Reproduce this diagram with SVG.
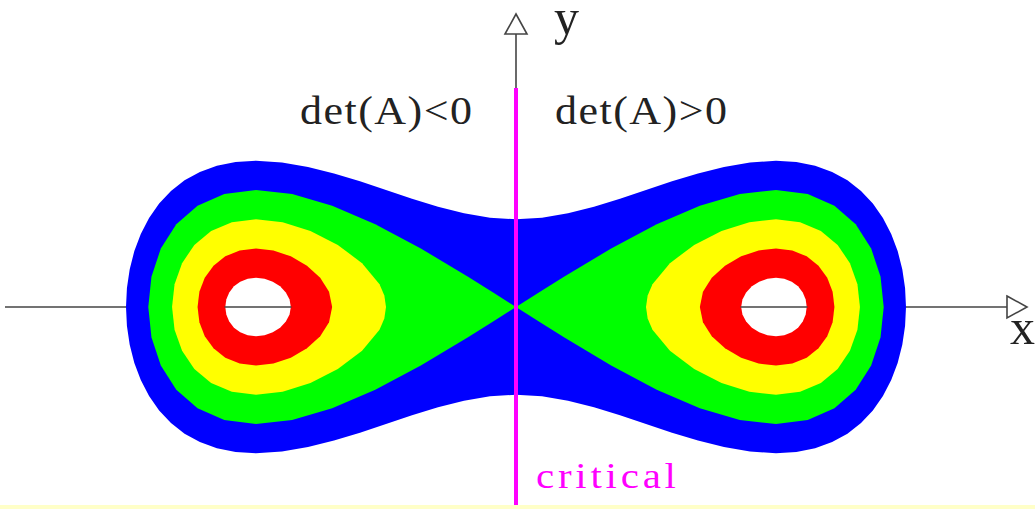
<svg xmlns="http://www.w3.org/2000/svg" width="1035" height="509" viewBox="0 0 1035 509">
<style>
.axis{stroke:#444;stroke-width:1.6;fill:none}
.head{stroke:#444;stroke-width:1.6;fill:#fff;stroke-linejoin:miter}
.serif{font-family:"Liberation Serif","DejaVu Serif",serif;fill:#222}
</style>
<defs>
<path id="greenR" d="M883.2,307 L880.05,276.72 870.67,248.5 855.21,224.27 833.93,205.68 807.21,193.99 775.5,190 739.34,193.99 699.35,205.68 656.21,224.27 610.67,248.5 563.49,276.72 539.55,291.73 515.5,307 539.55,322.27 563.49,337.28 610.67,365.5 656.21,389.73 699.35,408.32 739.34,420.01 775.5,424 807.21,420.01 833.93,408.32 855.21,389.73 870.67,365.5 880.05,337.28 Z"/>
<path id="yellowR" d="M859.45,307 L856.93,284.29 849.43,263.13 837.14,244.95 820.38,231.01 799.62,222.24 775.5,219.25 748.9,222.24 721.05,231.01 693.69,244.95 669.42,263.13 651.98,284.29 647.16,295.55 645.5,307 647.16,318.45 651.98,329.71 669.42,350.87 693.69,369.05 721.05,382.99 748.9,391.76 775.5,394.75 799.62,391.76 820.38,382.99 837.14,369.05 849.43,350.87 856.93,329.71 Z"/>
<path id="redR" d="M833.93,307 L832.12,291.86 826.74,277.75 817.99,265.63 806.19,256.34 791.81,250.49 775.5,248.5 758.09,250.49 740.67,256.34 724.55,265.63 711.28,277.75 702.46,291.86 699.35,307 702.46,322.14 711.28,336.25 724.55,348.37 740.67,357.66 758.09,363.51 775.5,365.5 791.81,363.51 806.19,357.66 817.99,348.37 826.74,336.25 832.12,322.14 Z"/>
<path id="holeR" d="M806.19,307 L805.2,299.43 802.27,292.38 797.55,286.32 791.27,281.67 783.78,278.75 775.5,277.75 766.95,278.75 758.71,281.67 751.4,286.32 745.64,292.38 741.94,299.43 740.67,307 741.94,314.57 745.64,321.62 751.4,327.68 758.71,332.33 766.95,335.25 775.5,336.25 783.78,335.25 791.27,332.33 797.55,327.68 802.27,321.62 805.2,314.57 Z"/>
</defs>
<rect x="0" y="505" width="1035" height="4" fill="#ffffc8"/>
<g id="axes">
<line class="axis" x1="5" y1="307" x2="1008" y2="307"/>
<line class="axis" x1="516" y1="34" x2="516" y2="505"/>
</g>
<g id="level-sets" transform="translate(0.5,0)">
<path id="blue" fill="#0000ff" d="M905.5,307 L904.57,287.91 901.79,269.15 897.16,251.03 890.71,233.88 882.43,217.97 872.36,203.59 860.52,190.97 846.94,180.34 831.63,171.88 814.62,165.73 795.91,162 775.5,160.75 749.5,162.45 723.5,166.95 697.5,173.48 671.5,181.37 645.5,190 619.5,198.69 593.5,206.73 567.5,213.33 541.5,217.71 515.5,219.25 489.5,217.71 463.5,213.33 437.5,206.73 411.5,198.69 385.5,190 359.5,181.37 333.5,173.48 307.5,166.95 281.5,162.45 255.5,160.75 235.09,162 216.38,165.73 199.37,171.88 184.06,180.34 170.48,190.97 158.64,203.59 148.57,217.97 140.29,233.88 133.84,251.03 129.21,269.15 126.43,287.91 125.5,307 126.43,326.09 129.21,344.85 133.84,362.97 140.29,380.12 148.57,396.03 158.64,410.41 170.48,423.03 184.06,433.66 199.37,442.12 216.38,448.27 235.09,452 255.5,453.25 281.5,451.55 307.5,447.05 333.5,440.52 359.5,432.63 385.5,424 411.5,415.31 437.5,407.27 463.5,400.67 489.5,396.29 515.5,394.75 541.5,396.29 567.5,400.67 593.5,407.27 619.5,415.31 645.5,424 671.5,432.63 697.5,440.52 723.5,447.05 749.5,451.55 775.5,453.25 795.91,452 814.62,448.27 831.63,442.12 846.94,433.66 860.52,423.03 872.36,410.41 882.43,396.03 890.71,380.12 897.16,362.97 901.79,344.85 904.57,326.09 Z"/>
<g id="green" fill="#00ff00">
<use href="#greenR"/>
<use href="#greenR" transform="translate(1031,0) scale(-1,1)"/>
</g>
<g id="yellow" fill="#ffff00">
<use href="#yellowR"/>
<use href="#yellowR" transform="translate(1031,0) scale(-1,1)"/>
</g>
<g id="red" fill="#ff0000">
<use href="#redR"/>
<use href="#redR" transform="translate(1031,0) scale(-1,1)"/>
</g>
<g id="holes" fill="#ffffff">
<use href="#holeR"/>
<use href="#holeR" transform="translate(1031,0) scale(-1,1)"/>
</g>
</g>
<g id="axis-in-holes">
<line class="axis" x1="224.5" y1="307" x2="291.5" y2="307"/>
<line class="axis" x1="740.5" y1="307" x2="807.5" y2="307"/>
</g>
<g id="arrowheads">
<polygon class="head" points="1007,296 1027,307 1007,318"/>
<polygon class="head" points="505,34 516,14 527,34"/>
</g>
<line id="critical-line" x1="516" y1="88" x2="516" y2="505" stroke="#ff00ff" stroke-width="4"/>
<g id="labels">
<text class="serif" x="554" y="34" font-size="50">y</text>
<text class="serif" x="1010" y="344" font-size="50">x</text>
<text class="serif" transform="translate(300,124) scale(1,0.89)" font-size="44" textLength="172" lengthAdjust="spacing">det(A)&lt;0</text>
<text class="serif" transform="translate(555,124) scale(1,0.89)" font-size="44" textLength="172" lengthAdjust="spacing">det(A)&gt;0</text>
<text class="serif" transform="translate(536,488) scale(1,0.85)" font-size="41" textLength="140" lengthAdjust="spacing" style="fill:#ff00ff">critical</text>
</g>
</svg>
